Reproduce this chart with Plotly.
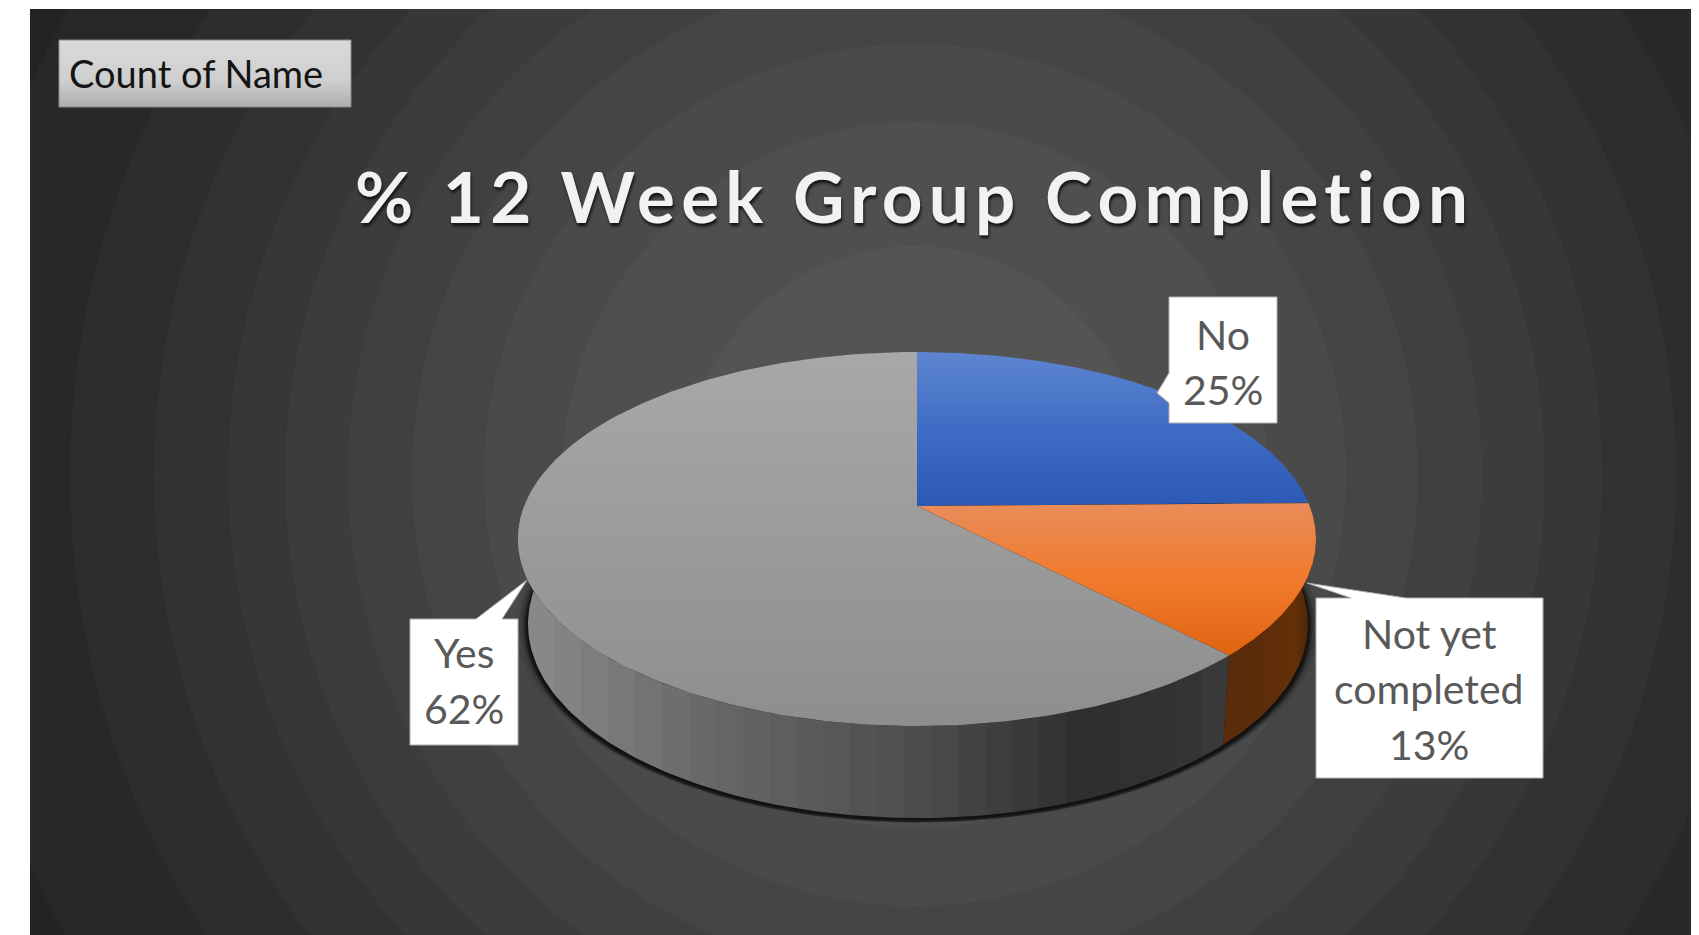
import numpy as np
import plotly.graph_objects as go

# ---- data ----
categories = ["No", "Not yet completed", "Yes"]
values = [24.7, 13.1, 62.2]
label_lines = [["No"], ["Not yet", "completed"], ["Yes"]]
title_text = "% 12 Week Group Completion"
filter_text = "Count of Name"

# ---- drawing constants (pixel frame of the picture) ----
W, H = 1699, 935
TOP = dict(cx=917, cy=539, rx=399, ry=187)
BOT = dict(cx=918, cy=624, rx=390, ry=194)
K = 33 / 187

ring_center = (915, 475)
ring_radii = [1100, 967, 845, 761, 687, 630, 567, 503, 431, 353, 229]
ring_grays = [0x23, 0x28, 0x2d, 0x32, 0x37, 0x3c, 0x40, 0x45, 0x4a, 0x4f, 0x54]


def rim(theta_deg, e):
    t = np.radians(theta_deg)
    u, v = np.sin(t), np.cos(t)
    w = 1 + K * v
    x = e["cx"] + e["rx"] * np.sqrt(1 - K * K) * u / w
    y = e["cy"] - e["ry"] * (v + K) / w
    return x, y


def grad(kind, start, stop, stops):
    return dict(type=kind, start=start, stop=stop,
                colorscale=[[p, c] for p, c in stops])


def stepped(xs, greys, lo, hi, n):
    scale = []
    for i in range(n):
        g = np.interp(lo + (hi - lo) * (i + 0.5) / n, xs, greys)
        col = f"rgb({int(g)},{int(g)},{int(g)})"
        scale += [[i / n, col], [(i + 1) / n - 1e-4, col]]
    scale[-1][0] = 1
    return scale


def poly(x, y, **kw):
    kw.setdefault("line", dict(width=0))
    return go.Scatter(x=list(x), y=list(y), mode="lines", fill="toself",
                      hoverinfo="skip", showlegend=False, **kw)


fig = go.Figure()

# background rings
shapes = []
cxr, cyr = ring_center
for r, g in zip(ring_radii, ring_grays):
    shapes.append(dict(type="circle", layer="below", x0=cxr - r, x1=cxr + r,
                       y0=cyr - r, y1=cyr + r, line=dict(width=0),
                       fillcolor=f"rgb({g},{g},{g})"))
for x0, x1, y0, y1 in [(0, 30, 0, H), (1691, W, 0, H), (0, W, 0, 9)]:
    shapes.append(dict(type="rect", layer="below", x0=x0, x1=x1, y0=y0, y1=y1,
                       line=dict(width=0), fillcolor="white"))

# slice angles from the values
total = sum(values)
edges = np.cumsum([0] + values) / total * 360

# soft shadow under the pie
th = np.linspace(0, 360, 240)
for grow, dy, alpha in [(12, 0, 0.05), (9, 1, 0.09), (6.5, 2, 0.14), (4.5, 2, 0.22), (3, 3, 0.3), (1.5, 2, 0.4)]:
    e = dict(BOT, rx=BOT["rx"] + grow, ry=BOT["ry"] + grow * 0.4, cy=BOT["cy"] + dy)
    sx, sy = rim(th, e)
    fig.add_trace(poly(sx, sy, fillcolor=f"rgba(0,0,0,{alpha})"))

# pie sides
a, b = edges[1], edges[2]
th = np.linspace(a, b, 60)
x1, y1 = rim(th, TOP)
x2, y2 = rim(th[::-1], BOT)
fig.add_trace(poly(np.r_[x1, x2], np.r_[y1, y2],
                   fillgradient=dict(type="horizontal", start=1210, stop=1310,
                                     colorscale=[[0, "#5a2a0b"], [0.5, "#5d2c0a"], [0.85, "#643008"], [1, "#4a2406"]])))
th = np.linspace(edges[2], 300, 160)
x1, y1 = rim(th, TOP)
x2, y2 = rim(th[::-1], BOT)
gx, gy = [500, 552, 686, 800, 935, 1082, 1180, 1225], [0x92, 0x86, 0x6c, 0x5c, 0x4b, 0x2f, 0x33, 0x3c]
fig.add_trace(poly(np.r_[x1, x2], np.r_[y1, y2],
                   fillgradient=dict(type="horizontal", start=500, stop=1228,
                                     colorscale=stepped(gx, gy, 500, 1228, 27))))

# pie top face
apex = (TOP["cx"], TOP["cy"] - TOP["ry"] * K)
tops = [
    ("vertical", 352, 506, [(0, "#5d85d0"), (0.5, "#3f6cc4"), (1, "#2b59b5")]),
    ("vertical", 500, 660, [(0, "#e98d5c"), (0.5, "#f17a2c"), (1, "#de6310")]),
    ("vertical", 352, 726, [(0, "#a8a8a8"), (0.5, "#9b9b9b"), (1, "#8e8e8e")]),
]
for i, (kind, s0, s1, stops) in enumerate(tops):
    th = np.linspace(edges[i], edges[i + 1], 200)
    x, y = rim(th, TOP)
    fig.add_trace(poly(np.r_[apex[0], x, apex[0]], np.r_[apex[1], y, apex[1]],
                       fillgradient=grad(kind, s0, s1, stops)))

# data label callouts
edge = dict(width=1, color="#b0b0b0")
callouts = [
    ([1169, 1277, 1277, 1169, 1169, 1157, 1169, 1169], [297, 297, 423, 423, 403, 393, 373, 297]),
    ([1316, 1351, 1307, 1406, 1543, 1543, 1316, 1316], [598, 598, 583, 598, 598, 778, 778, 598]),
    ([410, 476, 527, 502, 518, 518, 410, 410], [619, 619, 580, 619, 619, 745, 745, 619]),
]
for cx_, cy_ in callouts:
    fig.add_trace(poly(cx_, cy_, fillcolor="white", line=edge))

# filter button
fig.add_trace(poly([59, 351, 351, 59, 59], [40, 40, 107, 107, 40],
                   line=dict(width=1, color="#8a8a8a"),
                   fillgradient=grad("vertical", 40, 107,
                                     [(0, "#dadada"), (0.6, "#cfcfcf"), (1, "#adadad")])))

ann = []
label_font = dict(family="Lato", size=41, color="#595959")
centers = [(1223, [334, 389]), (1429, [633, 688, 744]), (464, [652, 708])]
shares = [round(v / total * 100) for v in values]
for i, (xc, ys) in enumerate(centers):
    lines = label_lines[i] + [f"{shares[i]}%"]
    for line, yc in zip(lines, ys):
        ann.append(dict(x=xc, y=yc, text=line, showarrow=False, xanchor="center",
                        yanchor="middle", font=label_font))
ann.append(dict(x=67, y=73, text=filter_text, showarrow=False, xanchor="left",
                yanchor="middle", font=dict(family="Lato", size=38, color="#141414")))
ann.append(dict(x=914, y=195,
                text=f'<span style="letter-spacing:6.2px">{title_text}</span>',
                showarrow=False, xanchor="center", yanchor="middle",
                font=dict(family="Lato", size=71, weight=700, color="#f2f2f2",
                          shadow="1px 3px 3px #151515")))

fig.update_layout(
    width=W, height=H, autosize=False, margin=dict(l=0, r=0, t=0, b=0),
    paper_bgcolor="white", plot_bgcolor="white", showlegend=False,
    xaxis=dict(range=[0, W], visible=False, fixedrange=True),
    yaxis=dict(range=[H, 0], visible=False, fixedrange=True),
    shapes=shapes, annotations=ann,
)
fig.write_html("out.html", config=dict(displayModeBar=False),
               post_script="document.body.style.margin='0';document.body.style.overflow='hidden';")
